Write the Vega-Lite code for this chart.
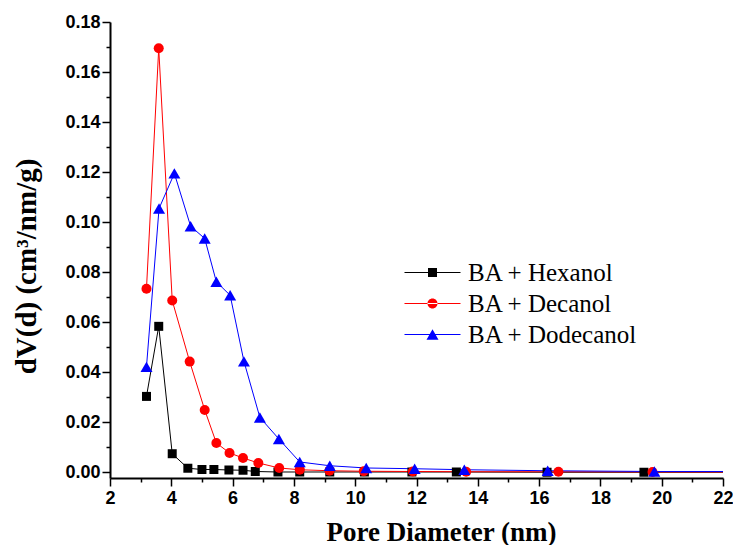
{
  "$schema": "https://vega.github.io/schema/vega-lite/v6.json",
  "autosize": "none",
  "width": 613,
  "height": 456,
  "padding": {"left": 110, "top": 22, "right": 10, "bottom": 67},
  "background": "white",
  "config": {"view": {"stroke": null}},
  "data": {"values": [
    {"series": "BA + Hexanol", "d": 3.19, "v": 0.0304},
    {"series": "BA + Hexanol", "d": 3.59, "v": 0.0584},
    {"series": "BA + Hexanol", "d": 4.03, "v": 0.0075},
    {"series": "BA + Hexanol", "d": 4.54, "v": 0.0017},
    {"series": "BA + Hexanol", "d": 5.0, "v": 0.0012},
    {"series": "BA + Hexanol", "d": 5.39, "v": 0.0012},
    {"series": "BA + Hexanol", "d": 5.88, "v": 0.0010},
    {"series": "BA + Hexanol", "d": 6.34, "v": 0.0009},
    {"series": "BA + Hexanol", "d": 6.74, "v": 0.0004},
    {"series": "BA + Hexanol", "d": 7.48, "v": 0.0002},
    {"series": "BA + Hexanol", "d": 8.19, "v": 0.0002},
    {"series": "BA + Hexanol", "d": 9.17, "v": 0.0002},
    {"series": "BA + Hexanol", "d": 10.3, "v": 0.0002},
    {"series": "BA + Hexanol", "d": 11.85, "v": 0.0002},
    {"series": "BA + Hexanol", "d": 13.3, "v": 0.0002},
    {"series": "BA + Hexanol", "d": 16.26, "v": 0.0001},
    {"series": "BA + Hexanol", "d": 19.42, "v": 0.0001},
    {"series": "BA + Hexanol", "d": 24, "v": 0.0001},
    {"series": "BA + Decanol", "d": 3.19, "v": 0.0734},
    {"series": "BA + Decanol", "d": 3.59, "v": 0.1695},
    {"series": "BA + Decanol", "d": 4.03, "v": 0.0687},
    {"series": "BA + Decanol", "d": 4.6, "v": 0.0443},
    {"series": "BA + Decanol", "d": 5.09, "v": 0.025},
    {"series": "BA + Decanol", "d": 5.47, "v": 0.0118},
    {"series": "BA + Decanol", "d": 5.9, "v": 0.0078},
    {"series": "BA + Decanol", "d": 6.34, "v": 0.0058},
    {"series": "BA + Decanol", "d": 6.84, "v": 0.0038},
    {"series": "BA + Decanol", "d": 7.52, "v": 0.0018},
    {"series": "BA + Decanol", "d": 8.19, "v": 0.0011},
    {"series": "BA + Decanol", "d": 9.16, "v": 0.0007},
    {"series": "BA + Decanol", "d": 10.28, "v": 0.0005},
    {"series": "BA + Decanol", "d": 11.88, "v": 0.0004},
    {"series": "BA + Decanol", "d": 13.62, "v": 0.0003},
    {"series": "BA + Decanol", "d": 16.63, "v": 0.0003},
    {"series": "BA + Decanol", "d": 19.7, "v": 0.0002},
    {"series": "BA + Decanol", "d": 24, "v": 0.0002},
    {"series": "BA + Dodecanol", "d": 3.19, "v": 0.0422},
    {"series": "BA + Dodecanol", "d": 3.6, "v": 0.1055},
    {"series": "BA + Dodecanol", "d": 4.1, "v": 0.1195},
    {"series": "BA + Dodecanol", "d": 4.63, "v": 0.0984},
    {"series": "BA + Dodecanol", "d": 5.09, "v": 0.0935},
    {"series": "BA + Dodecanol", "d": 5.47, "v": 0.0762},
    {"series": "BA + Dodecanol", "d": 5.92, "v": 0.0708},
    {"series": "BA + Dodecanol", "d": 6.37, "v": 0.0444},
    {"series": "BA + Dodecanol", "d": 6.89, "v": 0.022},
    {"series": "BA + Dodecanol", "d": 7.51, "v": 0.0134},
    {"series": "BA + Dodecanol", "d": 8.19, "v": 0.0042},
    {"series": "BA + Dodecanol", "d": 9.17, "v": 0.0027},
    {"series": "BA + Dodecanol", "d": 10.36, "v": 0.0018},
    {"series": "BA + Dodecanol", "d": 11.94, "v": 0.0015},
    {"series": "BA + Dodecanol", "d": 13.56, "v": 0.0011},
    {"series": "BA + Dodecanol", "d": 16.28, "v": 0.0007},
    {"series": "BA + Dodecanol", "d": 19.76, "v": 0.0004},
    {"series": "BA + Dodecanol", "d": 24, "v": 0.0004}
  ]},
  "encoding": {
    "x": {
      "field": "d", "type": "quantitative",
      "scale": {"domain": [2, 22], "nice": false, "zero": false},
      "axis": {
        "title": "Pore Diameter (nm)",
        "titleFont": "Liberation Serif", "titleFontSize": 27, "titleFontWeight": "bold", "titleColor": "black",
        "titleX": 331, "titleY": 62, "titleAlign": "center", "titleBaseline": "alphabetic",
        "values": [2,3,4,5,6,7,8,9,10,11,12,13,14,15,16,17,18,19,20,21,22],
        "labelExpr": "datum.value % 2 === 0 ? datum.label : ''",
        "labelFont": "Liberation Sans", "labelFontSize": 18, "labelFontWeight": "bold", "labelColor": "black",
        "labelPadding": 3, "labelFlush": false, "labelOverlap": false,
        "tickSize": {"condition": {"test": "datum.value % 2 === 0", "value": 8}, "value": 4},
        "tickWidth": 1.5, "tickColor": "black",
        "domainWidth": 2, "domainColor": "black", "grid": false
      }
    },
    "y": {
      "field": "v", "type": "quantitative",
      "scale": {"domain": [-0.0022, 0.18], "nice": false, "zero": false},
      "axis": {
        "title": "dV(d) (cm³/nm/g)",
        "titleFont": "Liberation Serif", "titleFontSize": 29, "titleFontWeight": "bold", "titleColor": "black",
        "titleX": -75, "titleY": 244, "titleAlign": "center", "titleBaseline": "alphabetic", "titleAngle": 270,
        "values": [0,0.01,0.02,0.03,0.04,0.05,0.06,0.07,0.08,0.09,0.10,0.11,0.12,0.13,0.14,0.15,0.16,0.17,0.18],
        "format": ".2f",
        "labelExpr": "round(datum.value * 100) % 2 === 0 ? datum.label : ''",
        "labelFont": "Liberation Sans", "labelFontSize": 18, "labelFontWeight": "bold", "labelColor": "black",
        "labelPadding": 2, "labelOverlap": false, "labelFlush": false,
        "tickSize": {"condition": {"test": "round(datum.value * 100) % 2 === 0", "value": 8}, "value": 4},
        "tickWidth": 1.5, "tickColor": "black",
        "domainWidth": 2, "domainColor": "black", "grid": false
      }
    },
    "color": {
      "field": "series", "type": "nominal",
      "scale": {"domain": ["BA + Hexanol", "BA + Decanol", "BA + Dodecanol"], "range": ["#000000", "#ff0000", "#0000ff"]},
      "legend": {
        "title": null, "orient": "none", "legendX": 310, "legendY": 238,
        "padding": 0, "rowPadding": 5, "symbolSize": 100, "labelOffset": 23,
        "labelFont": "Liberation Serif", "labelFontSize": 25, "labelColor": "black", "labelLimit": 400,
        "symbolStrokeWidth": 0,
        "encode": {
          "symbols": {"update": {
            "shape": {"signal": "datum.value === 'BA + Hexanol' ? 'M-5.6,-0.1H5.6V0.1H-5.6ZM-0.9,-0.9H0.9V0.9H-0.9Z' : datum.value === 'BA + Decanol' ? 'M-5.6,-0.1H5.6V0.1H-5.6ZM-1,0A1,1,0,1,0,1,0A1,1,0,1,0,-1,0Z' : 'M-5.6,-0.1H5.6V0.1H-5.6ZM0,-1.04L1.2,1.04L-1.2,1.04Z'"},
            "size": {"value": 100},
            "fill": {"scale": "color", "field": "value"},
            "strokeWidth": {"value": 0},
            "opacity": {"value": 1},
            "fillOpacity": {"value": 1}
          }}
        }
      }
    }
  },
  "layer": [
    {"mark": {"type": "line", "strokeWidth": 1, "clip": true}},
    {
      "transform": [{"filter": "datum.series === 'BA + Hexanol'"}],
      "mark": {"type": "point", "shape": "square", "size": 81, "filled": true, "opacity": 1, "clip": true}
    },
    {
      "transform": [{"filter": "datum.series === 'BA + Decanol'"}],
      "mark": {"type": "point", "shape": "circle", "size": 100, "filled": true, "opacity": 1, "clip": true}
    },
    {
      "transform": [{"filter": "datum.series === 'BA + Dodecanol'"}],
      "mark": {"type": "point", "shape": "triangle-up", "size": 144, "filled": true, "opacity": 1, "clip": true}
    }
  ]
}
